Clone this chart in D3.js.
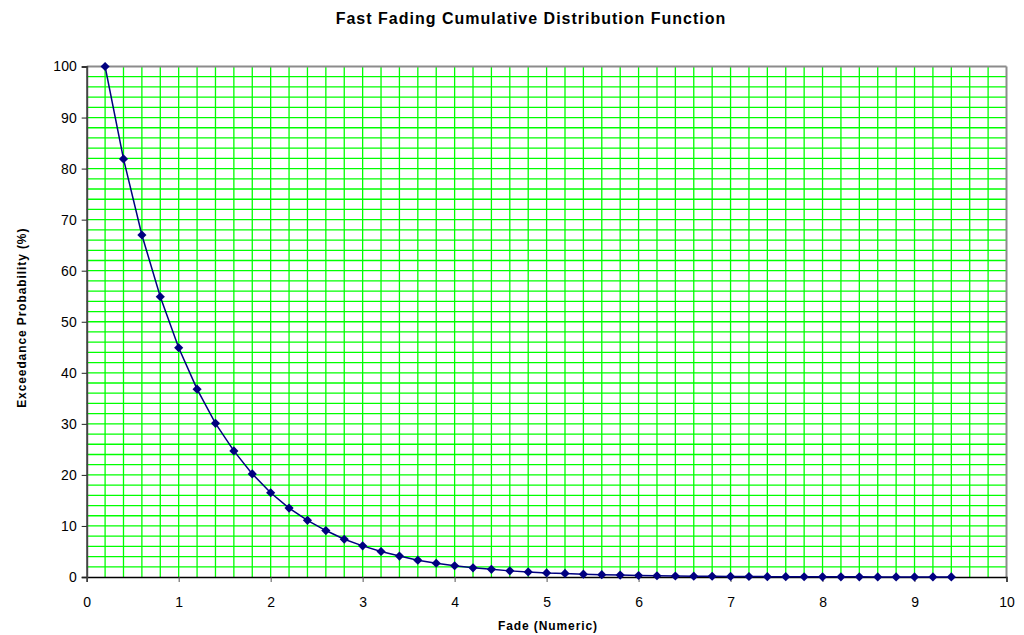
<!DOCTYPE html>
<html>
<head>
<meta charset="utf-8">
<script src="https://cdn.jsdelivr.net/npm/d3@7"></script>
<style>
  body { margin: 0; background: #fff; }
  svg { display: block; font-family: "Liberation Sans", Arial, sans-serif; }
</style>
</head>
<body>
<svg id="chart" width="1024" height="635"></svg>
<script>
// Data
const fadeValues = [0.2, 0.4, 0.6, 0.8, 1.0, 1.2, 1.4, 1.6, 1.8, 2.0,
  2.2, 2.4, 2.6, 2.8, 3.0, 3.2, 3.4, 3.6, 3.8, 4.0,
  4.2, 4.4, 4.6, 4.8, 5.0, 5.2, 5.4, 5.6, 5.8, 6.0,
  6.2, 6.4, 6.6, 6.8, 7.0, 7.2, 7.4, 7.6, 7.8, 8.0,
  8.2, 8.4, 8.6, 8.8, 9.0, 9.2, 9.4];
const exceedance = [100, 81.9, 67.0, 54.9, 44.9, 36.8, 30.1, 24.7, 20.2, 16.5,
  13.5, 11.1, 9.1, 7.4, 6.1, 5.0, 4.1, 3.3, 2.7, 2.2,
  1.8, 1.5, 1.2, 1.0, 0.8, 0.7, 0.55, 0.45, 0.37, 0.3,
  0.25, 0.2, 0.17, 0.14, 0.11, 0.09, 0.07, 0.06, 0.05, 0.04,
  0.03, 0.03, 0.02, 0.02, 0.02, 0.01, 0.01];
const xTicks = [0, 1, 2, 3, 4, 5, 6, 7, 8, 9, 10];
const yTicks = [0, 10, 20, 30, 40, 50, 60, 70, 80, 90, 100];
const titleText = "Fast Fading Cumulative Distribution Function";
const xLabel = "Fade (Numeric)";
const yLabel = "Exceedance Probability (%)";

const svg = d3.select("#chart");
const L = 86.7, R = 1006.5, T = 66.5, B = 577;
const x = d3.scaleLinear().domain([0, 10]).range([L, R]);
const y = d3.scaleLinear().domain([0, 100]).range([B, T]);

// grid
const g = svg.append("g");
const vGrid = d3.range(1, 50).map(i => i * 0.2);
const hGrid = d3.range(1, 50).map(i => i * 2);
g.selectAll(".vg").data(vGrid).enter().append("line")
  .attr("x1", d => x(d)).attr("x2", d => x(d))
  .attr("y1", T).attr("y2", B)
  .attr("stroke", "#00ff00").attr("stroke-width", 1.3);
g.selectAll(".hg").data(hGrid).enter().append("line")
  .attr("x1", L).attr("x2", R)
  .attr("y1", d => y(d)).attr("y2", d => y(d))
  .attr("stroke", "#00ff00").attr("stroke-width", 1.3);

// border top/right
svg.append("line").attr("x1", L).attr("x2", R).attr("y1", T).attr("y2", T)
  .attr("stroke", "#8c8c8c").attr("stroke-width", 2);
svg.append("line").attr("x1", R).attr("x2", R).attr("y1", T).attr("y2", B)
  .attr("stroke", "#8c8c8c").attr("stroke-width", 2);

// axes
const xAxis = d3.axisBottom(x).tickValues(xTicks).tickSize(5).tickPadding(15).tickFormat(d3.format("d"));
const yAxis = d3.axisLeft(y).tickValues(yTicks).tickSize(5).tickPadding(5).tickFormat(d3.format("d"));
const xa = svg.append("g").attr("transform", `translate(0,${B})`).call(xAxis);
const ya = svg.append("g").attr("transform", `translate(${L},0)`).call(yAxis);
xa.select(".domain").attr("stroke", "#000").attr("stroke-width", 1.5);
ya.select(".domain").attr("stroke", "#444").attr("stroke-width", 2);
xa.selectAll(".tick line").attr("stroke", "#555");
ya.selectAll(".tick line").attr("stroke", "#222");
[xa, ya].forEach(a => a.selectAll("text")
  .attr("font-family", "Liberation Sans, Arial, sans-serif")
  .attr("font-size", 14).attr("fill", "#000"));

// line + markers
const line = d3.line().x((d, i) => x(fadeValues[i])).y(d => y(d));
svg.append("path").datum(exceedance)
  .attr("d", line).attr("fill", "none")
  .attr("stroke", "#000080").attr("stroke-width", 1.5);
const sym = d3.symbol().type(d3.symbolSquare).size(42);
svg.selectAll(".pt").data(exceedance).enter().append("path")
  .attr("d", sym)
  .attr("transform", (d, i) => `translate(${x(fadeValues[i])},${y(d)}) rotate(45)`)
  .attr("fill", "#000080");

// labels
svg.append("text").attr("x", 531).attr("y", 24).attr("text-anchor", "middle")
  .attr("font-size", 16).attr("font-weight", "bold").attr("letter-spacing", 1)
  .text(titleText);
svg.append("text").attr("x", 548).attr("y", 630).attr("text-anchor", "middle")
  .attr("font-size", 12).attr("font-weight", "bold").attr("letter-spacing", 0.9)
  .text(xLabel);
svg.append("text").attr("transform", `translate(26,${(T + B) / 2 - 4}) rotate(-90)`)
  .attr("text-anchor", "middle")
  .attr("font-size", 12).attr("font-weight", "bold").attr("letter-spacing", 0.9)
  .text(yLabel);
</script>
</body>
</html>
